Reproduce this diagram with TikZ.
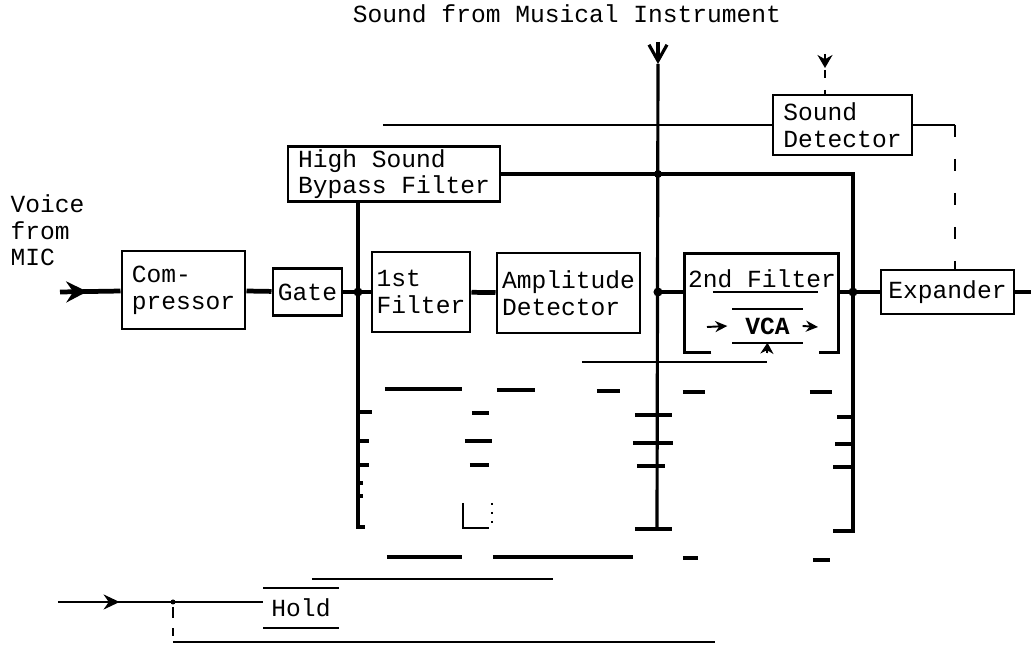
\documentclass[tikz,border=0pt]{standalone}
\usepackage{fontspec}
\setmonofont{Liberation Mono}
\usetikzlibrary{arrows.meta}
\usetikzlibrary{decorations.markings}

\begin{document}
\begin{tikzpicture}[x=0.1mm,y=-0.1mm,
  font=\ttfamily\fontsize{7}{7.6}\selectfont,
  blk/.style={draw,line width=0.85pt,inner sep=0pt,align=left},
  sig/.style={line width=1.35pt},
  wire/.style={line width=0.9pt},
  fine/.style={line width=0.55pt},
  midarr/.style={postaction={decorate},decoration={markings,
    mark=at position #1 with {\arrow{Stealth[length=1.6mm,width=1.5mm]}}}},
  bigarr/.style={postaction={decorate},decoration={markings,
    mark=at position #1 with {\arrow{Stealth[length=2.1mm,width=2.1mm,inset=0.7mm]}}}}]
  \useasboundingbox (0,0) rectangle (1031,649);

  % texts outside the blocks
  \node (title) at (567,14) {Sound from Musical Instrument};
  \node[align=left,anchor=north west,inner sep=0pt] (mic) at (10,194) {Voice\\from\\MIC};

  % blocks
  \node[blk,minimum width=12.3mm,minimum height=7.8mm] (comp) at (183.5,290) {Com-\\pressor};
  \node[blk,minimum width=6.9mm,minimum height=4.7mm] (gate) at (307.5,292) {Gate};
  \node[blk,minimum width=21.2mm,minimum height=5.5mm] (hsbf) at (394,174) {High Sound\\Bypass Filter};
  \node[blk,minimum width=9.8mm,minimum height=8mm] (filt1) at (421,292) {1st\\Filter};
  \node[blk,minimum width=14.3mm,minimum height=8mm] (ampdet) at (568.5,293) {Amplitude\\Detector};
  \node[blk,minimum width=13.9mm,minimum height=6mm] (snddet) at (842.5,125) {Sound\\Detector};
  \node[blk,minimum width=13.3mm,minimum height=4.4mm] (expand) at (947.5,292) {Expander};
  \node[minimum width=15.3mm,minimum height=9.8mm,inner sep=0pt] (filt2) at (761.5,303) {};
  \node (filt2txt) at (762,279) {2nd Filter};
  \node[font=\ttfamily\bfseries\fontsize{7}{7.6}\selectfont,minimum width=6.9mm,
    minimum height=3.2mm,inner sep=0pt] (vca) at (767.5,326) {VCA};
  \node[minimum width=7.4mm,minimum height=3.8mm,inner sep=0pt] (hold) at (301,608) {Hold};

  % points on the three vertical lines
  \coordinate (micin) at (60,292);
  \coordinate (busL) at (358,292);
  \coordinate (busC) at (658,292);
  \coordinate (busR) at (853,292);
  \coordinate (instr) at (658,42);
  \coordinate (out) at (1031,292);

  % 2nd filter outline, open at the bottom
  \draw[wire] ([xshift=2.7mm]filt2.south west) -- (filt2.south west) -- (filt2.north west)
    -- (filt2.north east) -- (filt2.south east) -- ([xshift=-2mm]filt2.south east);
  \draw[fine] (713,292) -- (818,292);
  \draw[fine] (vca.north west) -- (vca.north east);
  \draw[fine] (vca.south west) -- (vca.south east);
  \coordinate (vcain) at (707,327);
  \coordinate (vcaout) at (818,327);
  \draw[fine,-{Stealth[length=1.2mm,width=1.1mm]}] (vcain) -- ([xshift=-0.5mm]vca.west);
  \draw[fine,-{Stealth[length=1.2mm,width=1.1mm]}] (vca.east) -- (vcaout);
  \draw[fine,-{Stealth[length=1.1mm,width=1.3mm]}] (767,353) -- (vca.south);
  \coordinate (ctl) at (582,362);
  \draw[fine] (ctl) -- (767,362);

  % signal path
  \draw[sig,bigarr=0.45] (micin) -- (comp);
  \draw[sig] (comp) -- (gate);
  \draw[sig] (gate) -- (busL) -- (filt1);
  \draw[sig] (filt1) -- (ampdet);
  \draw[sig] (busC) -- (busC -| filt2.west);
  \draw[sig] (filt2.east |- busR) -- (busR) -- (expand);
  \draw[sig] (expand) -- (out);

  % verticals
  \draw[wire] (hsbf.south -| busL) -- (358,527) -- ++(7,0);
  \draw[wire,-{Straight Barb[length=1.6mm,width=1.8mm]}] (instr) -- (658,64);
  \draw[wire] (658,64) -- (657,529);
  \draw[wire] (635,529) -- (672,529);
  \draw[sig] (hsbf.east) -- (hsbf.east -| busR) -- (853,531) -- ++(-20,0);
  \foreach \j in {busL,busC,busR}
    \fill (\j) circle (0.45mm);
  \fill (hsbf.east -| busC) circle (0.4mm);

  % sound detector branch
  \coordinate (hsn) at (383,125);
  \coordinate (sdc) at (955,125);
  \coordinate (snd) at (825,54);
  \draw[fine] (hsn) -- (snddet);
  \draw[fine] (snddet) -- (sdc);
  \draw[fine,dash pattern=on 1.2mm off 2.2mm] (sdc) -- (sdc |- expand.north);
  \draw[fine,-{Stealth[length=1.3mm,width=1.5mm]}] (snd) -- (825,68);
  \draw[fine,dash pattern=on 0.8mm off 1.2mm] (825,70) -- (snddet.north -| snd);

  % ticks on the verticals
  \foreach \y/\l in {412/14,441/11,465/11,483/5,496/5}
    \draw[wire] (358,\y) -- ++(\l,0);
  \foreach \y/\xa/\xb in {415/635/672,443/633/673,466/637/665}
    \draw[wire] (\xa,\y) -- (\xb,\y);
  \foreach \y/\l in {417/16,444/18,467/20}
    \draw[wire] (853,\y) -- ++(-\l,0);

  % broken lines below the blocks
  \foreach \xa/\xb/\y in {385/462/389,497/535/390,597/620/391,683/705/392,810/832/392,
      472/489/413,465/492/441,470/489/465,387/462/557,493/633/557,683/698/558,813/830/560}
    \draw[wire] (\xa,\y) -- (\xb,\y);
  \draw[fine] (463,503) -- (463,528) -- (489,528);
  \draw[fine,dotted] (492,503) -- (492,528);
  \draw[fine] (312,579) -- (553,579);

  % hold
  \draw[fine] (hold.north west) -- (hold.north east);
  \draw[fine] (hold.south west) -- (hold.south east);
  \coordinate (holdin) at (58,602);
  \draw[fine,midarr=0.3] (holdin) -- (holdin -| hold.west);
  \fill (173,602) circle (0.25mm);
  \draw[fine,dashed] (173,607) -- (173,636);
  \draw[fine] (173,642) -- (715,642);
\end{tikzpicture}
\end{document}
